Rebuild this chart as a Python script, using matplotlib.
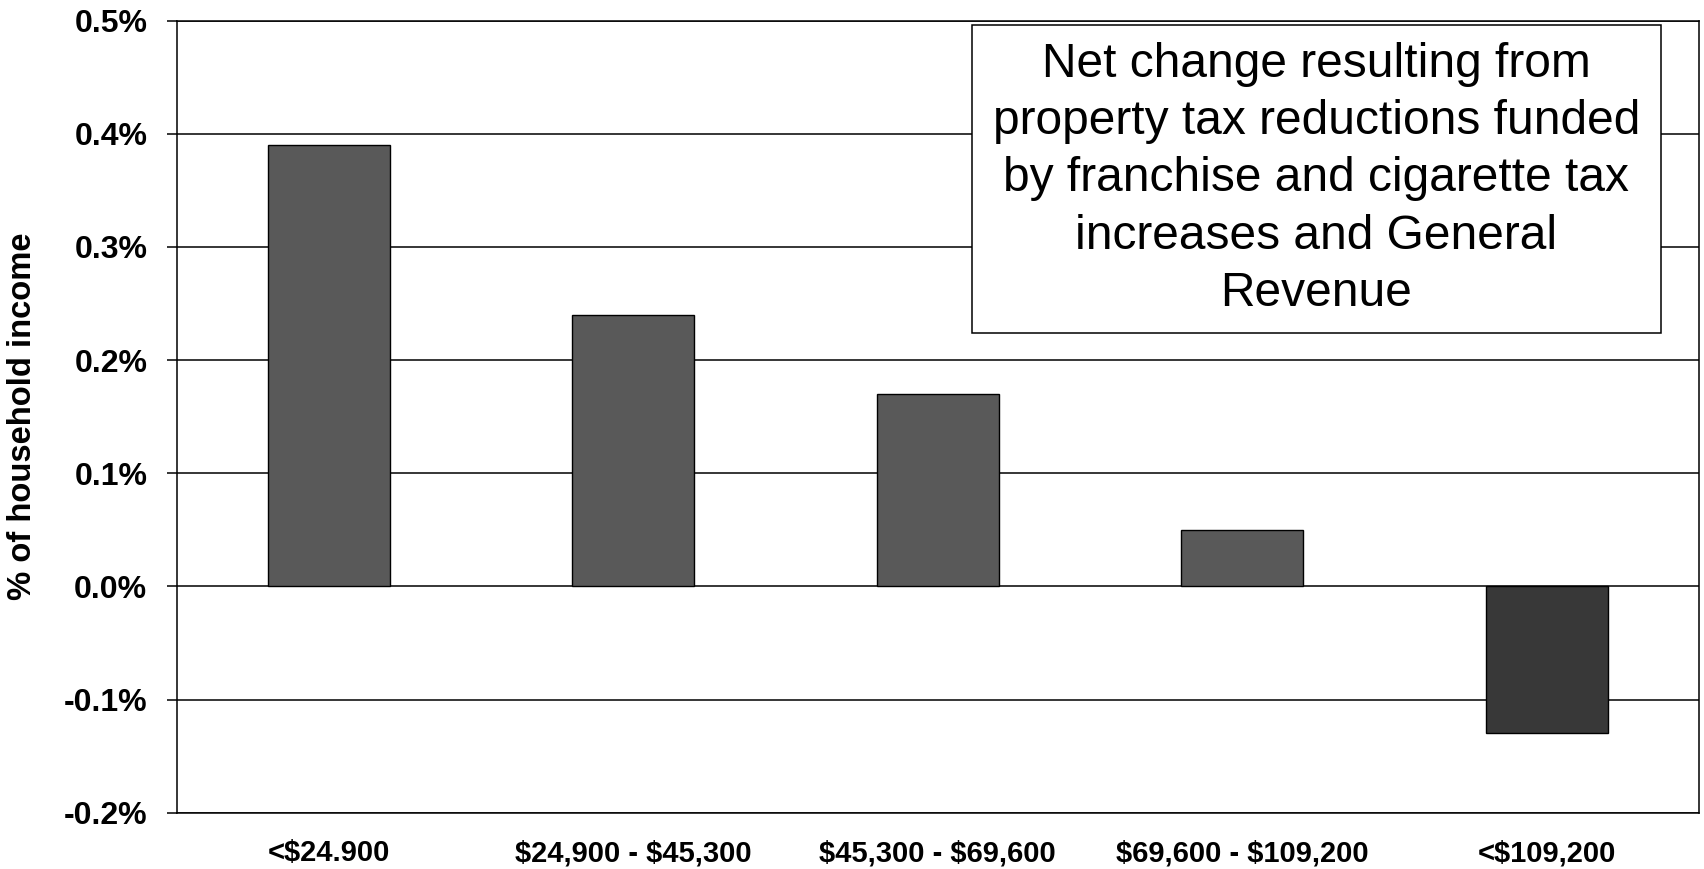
import matplotlib
matplotlib.use('Agg')
import matplotlib.pyplot as plt
from matplotlib.patches import Rectangle

plt.rcParams['font.family'] = ['Liberation Sans', 'DejaVu Sans']
plt.rcParams['text.parse_math'] = False  # labels contain plain $ signs

# data
income_groups = ['<$24.900', '$24,900 - $45,300', '$45,300 - $69,600',
                 '$69,600 - $109,200', '<$109,200']
pct_change = [0.39, 0.24, 0.17, 0.05, -0.13]
bar_colors = ['#595959', '#595959', '#595959', '#595959', '#383838']
y_ticks = [-0.2, -0.1, 0.0, 0.1, 0.2, 0.3, 0.4, 0.5]
y_tick_labels = ['-0.2%', '-0.1%', '0.0%', '0.1%', '0.2%', '0.3%', '0.4%', '0.5%']
note = ('Net change resulting from\nproperty tax reductions funded\n'
        'by franchise and cigarette tax\nincreases and General\nRevenue')

fig = plt.figure(figsize=(17.04, 8.69), dpi=100)
ax = fig.add_axes([0.1037, 0.0648, 0.8933, 0.9114])

x = range(len(income_groups))
ax.bar(x, pct_change, width=0.4, color=bar_colors, edgecolor='black',
       linewidth=1.0, zorder=3)

ax.set_xlim(-0.5, len(income_groups) - 0.5)
ax.set_ylim(-0.2, 0.5)
ax.set_yticks(y_ticks)
ax.set_yticklabels(y_tick_labels, fontsize=23, fontweight='bold')
ax.set_xticks(list(x))
ax.set_xticklabels(income_groups, fontsize=21, fontweight='bold')

ax.tick_params(axis='y', direction='out', length=7.2, width=1.1, pad=14)
ax.tick_params(axis='x', length=0, pad=19)
ax.grid(axis='y', color='black', linewidth=1.1, zorder=1)
ax.set_axisbelow(True)
for s in ax.spines.values():
    s.set_linewidth(1.1)
    s.set_color('black')

fig.text(23 / 1704, 0.5205, '% of household income', rotation=90,
         ha='center', va='center', fontsize=23.6, fontweight='bold')

# note box
bx0, bx1, by0, by1 = 0.5224, 0.975, 0.606, 0.9946
ax.add_patch(Rectangle((bx0, by0), bx1 - bx0, by1 - by0, transform=ax.transAxes,
                       facecolor='white', edgecolor='black', linewidth=1.1, zorder=5))
ax.text((bx0 + bx1) / 2, (by0 + by1) / 2, note, transform=ax.transAxes,
        ha='center', va='center', multialignment='center', fontsize=34.5,
        linespacing=1.35, zorder=6)

fig.savefig('out.png', dpi=100)
